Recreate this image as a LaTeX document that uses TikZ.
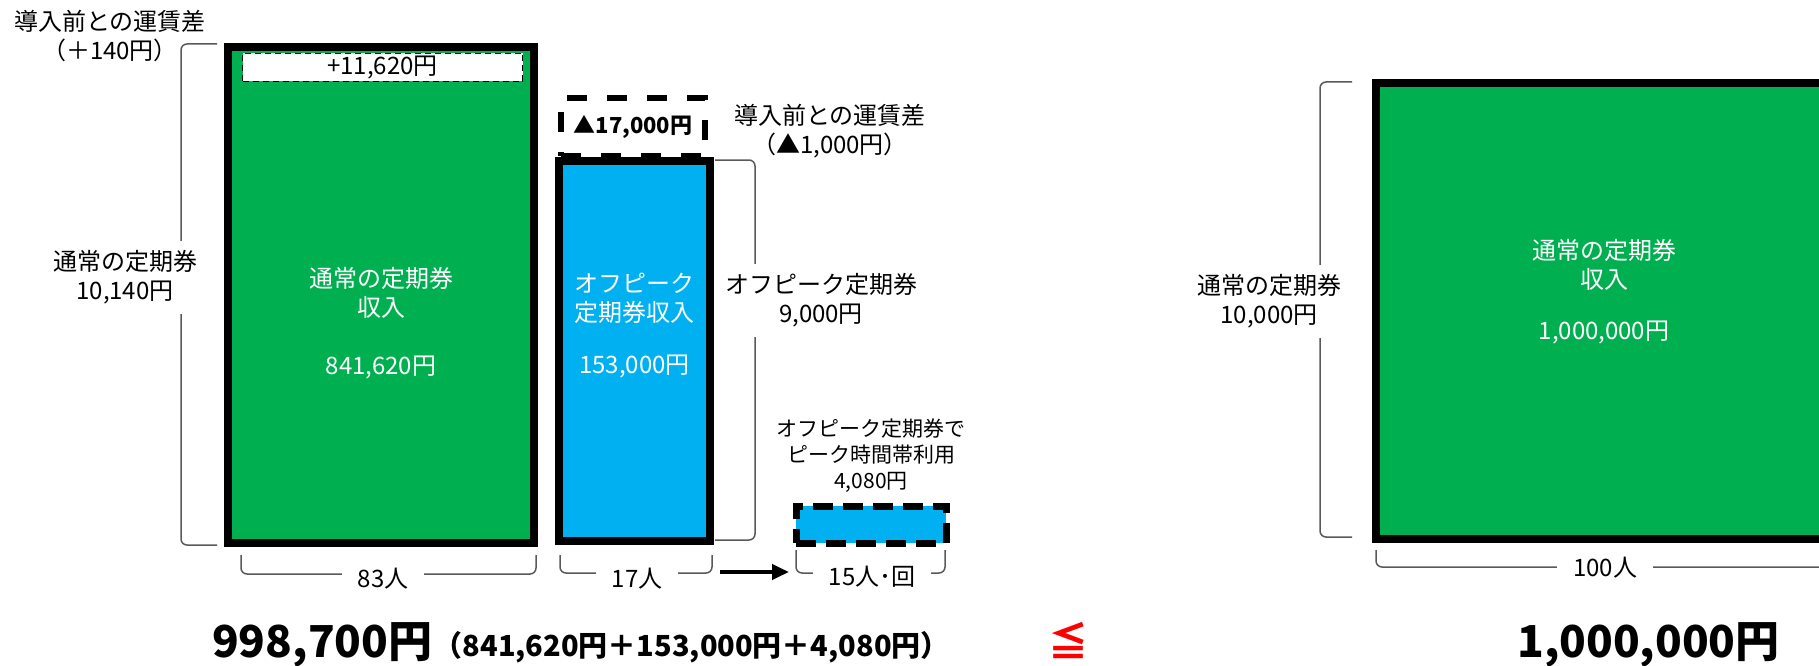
\documentclass[tikz,border=0pt]{standalone}
\usepackage{fontspec}
\setmainfont{Noto Sans CJK JP}
\usetikzlibrary{arrows.meta}
\definecolor{pgreen}{HTML}{00B050}
\definecolor{pblue}{HTML}{00B0F0}
\definecolor{bgray}{HTML}{595959}
\definecolor{pred}{HTML}{FF0000}
\newcommand\jfs[2]{\fontsize{#1}{#2}\selectfont}
\tikzset{
  gbox/.style={draw=black, line width=8pt, fill=pgreen, inner sep=0pt, outer sep=0pt},
  bbox/.style={draw=black, line width=8pt, fill=pblue, inner sep=0pt, outer sep=0pt},
  brk/.style={draw=bgray, line width=1.5pt, rounded corners=6pt},
  lbl/.style={text=black, align=center, inner sep=0pt, font=\jfs{24}{29}},
  gaplbl/.style={lbl, fill=white, inner xsep=4pt, inner ysep=10pt},
  cntlbl/.style={lbl, fill=white, inner xsep=16pt, inner ysep=2pt},
  wlbl/.style={text=white, align=center, inner sep=0pt, font=\jfs{24}{29}},
  bigtxt/.style={text=black, inner sep=0pt, font=\bfseries\jfs{44}{50}},
}
\begin{document}
\begin{tikzpicture}[x=1pt, y=-1pt]
\useasboundingbox (0,0) rectangle (1819,666);
\clip (0,0) rectangle (1819,666);

% ---------- left green box ----------
\node[gbox, minimum width=306pt, minimum height=496pt] (g1) at (381,295) {};
\node[draw=black, line width=1.5pt, dash pattern=on 6pt off 4pt, fill=white,
      minimum width=280pt, minimum height=28pt, inner sep=0pt,
      font=\jfs{24}{26}] (d1) at (382.5,67.5) {+11,620円};
\node[wlbl] (g1t) at (381,292.5) {通常の定期券\\収入};
\node[wlbl] (g1v) at (381,368) {841,620円};

\draw[brk] (217,44) -- (181,44) -- (181,545) -- (217,545);
\node[gaplbl] (g1l) at (125,277.5) {通常の定期券\\10,140円};
\node[lbl] (difL) at (110,36.5) {導入前との運賃差\\（＋140円）};

\draw[brk] (241,555) -- (241,574) -- (536,574) -- (536,555);
\node[cntlbl] (n83) at (383,579) {83人};

% ---------- blue box ----------
\node[draw=black, line width=6pt, dash pattern=on 20pt off 20pt,
      minimum width=144pt, minimum height=58pt, inner sep=0pt,
      font=\bfseries\jfs{22}{24}] (d2) at (633,127) {▲17,000円};
\node[bbox, minimum width=151pt, minimum height=380pt] (b1) at (634.5,351) {};
\node[wlbl] (b1t) at (634.5,298.5) {オフピーク\\定期券収入};
\node[wlbl] (b1v) at (634.5,367) {153,000円};

\node[lbl] (difB) at (830,131.5) {導入前との運賃差\\（▲1,000円）};
\draw[brk] (715,160) -- (755,160) -- (755,540) -- (715,540);
\node[gaplbl] (b1l) at (821,300.5) {オフピーク定期券\\9,000円};

\draw[brk] (560,555) -- (560,573) -- (712,573) -- (712,555);
\node[cntlbl] (n17) at (637,579) {17人};

% ---------- small dashed box ----------
\node[draw=black, line width=7pt, dash pattern=on 20pt off 10pt, fill=pblue,
      minimum width=150pt, minimum height=37pt, inner sep=0pt] (s1) at (871,524.5) {};
\node[lbl, font=\jfs{21}{26}] (s1l) at (871,456) {オフピーク定期券で\\ピーク時間帯利用\\4,080円};
\draw[brk] (796,550) -- (796,573) -- (945,573) -- (945,550);
\node[cntlbl] (n15) at (872,577) {15人･回};

\coordinate (arrS) at (720,572);
\coordinate (arrE) at (789,572);
\draw[line width=4pt, -{Triangle[length=17pt,width=15pt]}] (arrS) -- (arrE);

% ---------- right green box ----------
\node[gbox, minimum width=456pt, minimum height=456pt] (g2) at (1604,311) {};
\node[wlbl] (g2t) at (1604,264.5) {通常の定期券\\収入};
\node[wlbl] (g2v) at (1604,333) {1,000,000円};
\draw[brk] (1352,82) -- (1320,82) -- (1320,537) -- (1352,537);
\node[gaplbl] (g2l) at (1269,301.5) {通常の定期券\\10,000円};
\draw[brk] (1376,550) -- (1376,567) -- (1860,567);
\node[cntlbl] (n100) at (1605,568) {100人};

% ---------- totals ----------
\node[bigtxt, anchor=west] (tot1) at (212,645) {998,700円};
\node[text=black, inner sep=0pt, anchor=east, font=\bfseries\jfs{29}{32}] (tot1b) at (950,647) {（841,620円＋153,000円＋4,080円）};
\node[text=pred, inner sep=0pt, font=\bfseries\jfs{40}{44}] (leq) at (1068,640) {≦};
\node[bigtxt, anchor=west] (tot2) at (1517,645) {1,000,000円};
\end{tikzpicture}
\end{document}
